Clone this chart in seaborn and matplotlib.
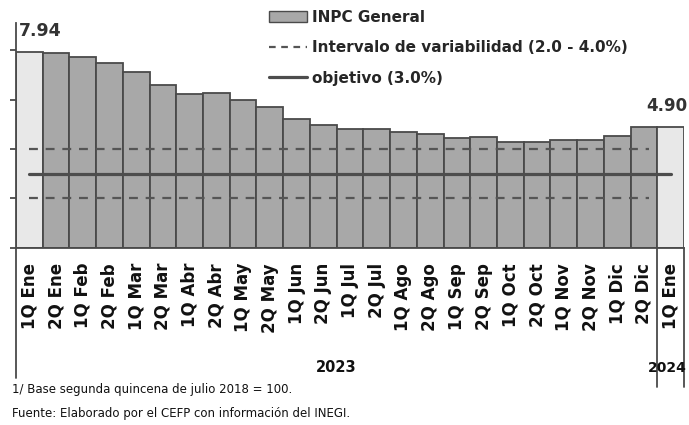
import matplotlib
matplotlib.use("Agg")
import matplotlib.pyplot as plt
from matplotlib.patches import Patch
from matplotlib.lines import Line2D
import seaborn as sns
import pandas as pd

# ---- data ----
periods = ["1Q Ene", "2Q Ene", "1Q Feb", "2Q Feb", "1Q Mar", "2Q Mar", "1Q Abr", "2Q Abr",
           "1Q May", "2Q May", "1Q Jun", "2Q Jun", "1Q Jul", "2Q Jul", "1Q Ago", "2Q Ago",
           "1Q Sep", "2Q Sep", "1Q Oct", "2Q Oct", "1Q Nov", "2Q Nov", "1Q Dic", "2Q Dic",
           "1Q Ene"]
years = ["2023"] * 24 + ["2024"]
inpc = [7.94, 7.90, 7.73, 7.48, 7.13, 6.57, 6.24, 6.28, 5.98, 5.71, 5.21, 4.95, 4.81, 4.81,
        4.68, 4.62, 4.45, 4.49, 4.27, 4.27, 4.35, 4.35, 4.51, 4.88, 4.90]
highlight = [True] + [False] * 23 + [True]
band_low, band_high = 2.0, 4.0
target = 3.0
y_ticks = [0, 2, 4, 6, 8]
legend_labels = ["INPC General", "Intervalo de variabilidad (2.0 - 4.0%)", "objetivo (3.0%)"]
notes = ["1/ Base segunda quincena de julio 2018 = 100.",
         "Fuente: Elaborado por el CEFP con información del INEGI."]

df = pd.DataFrame({"key": [f"{y} {p}" for y, p in zip(years, periods)],
                   "value": inpc, "hl": highlight})

BAR = "#a8a8a8"
BAR_HL = "#e8e8e8"
EDGE = "#4a4a4a"
TXT = "#333333"

sns.set_style("white")
plt.rcParams["font.family"] = ["DejaVu Sans"]

fig = plt.figure(figsize=(6.89, 4.25), dpi=100)
ax = fig.add_axes([16 / 689, 177.3 / 425, 668 / 689, 224.7 / 425])

palette = {k: (BAR_HL if h else BAR) for k, h in zip(df["key"], df["hl"])}
sns.barplot(data=df, x="key", y="value", hue="key", palette=palette, legend=False,
            width=1.0, edgecolor=EDGE, linewidth=1.3, saturation=1, ax=ax, zorder=2)

n = len(inpc)
xs = list(range(n))
ax.plot([xs[0], xs[-2] + 0.2], [band_high] * 2, color="#555555", lw=1.6,
        linestyle=(0, (4, 3.5)), zorder=3)
ax.plot([xs[0], xs[-2] + 0.2], [band_low] * 2, color="#555555", lw=1.6,
        linestyle=(0, (4, 3.5)), zorder=3)
ax.plot([xs[0], xs[-1]], [target] * 2, color="#4d4d4d", lw=2.3, zorder=3)

ax.set_xlim(-0.5, n - 0.5)
ax.set_ylim(0, 9.1)
ax.set_yticks(y_ticks)
ax.set_yticklabels([])
ax.tick_params(axis="y", length=4, width=1.3, color=EDGE, direction="out", left=True)
ax.set_xticks(xs)
ax.set_xticklabels(periods, rotation=90, fontweight="bold", fontsize=12, color="#111111")
ax.tick_params(axis="x", length=0, pad=11)
ax.set_xlabel("")
ax.set_ylabel("")
for s in ["top", "right"]:
    ax.spines[s].set_visible(False)
for s in ["left", "bottom"]:
    ax.spines[s].set_color(EDGE)
    ax.spines[s].set_linewidth(1.3)

# separators below axis
trans = ax.get_xaxis_transform()
for xb, y0 in [(-0.5, -0.58), (n - 1.5, -0.62), (n - 0.5, -0.62)]:
    ax.add_line(Line2D([xb, xb], [0, y0], transform=trans, color=EDGE, lw=1.3,
                       clip_on=False))

# year labels
ax.text((n - 2) / 2, -0.535, years[0], transform=trans, ha="center", va="center",
        fontweight="bold", fontsize=10.5, color="#111111")
ax.text(n - 0.38, -0.535, years[-1], transform=trans, ha="right", va="center",
        fontweight="bold", fontsize=10, color="#111111")

# value labels
ax.text(-0.4, inpc[0] + 0.82, f"{inpc[0]:.2f}", ha="left", va="center",
        fontweight="bold", fontsize=12.5, color=TXT)
ax.text(n - 0.37, inpc[-1] + 0.85, f"{inpc[-1]:.2f}", ha="right", va="center",
        fontweight="bold", fontsize=12, color=TXT)

# legend
handles = [Patch(facecolor=BAR, edgecolor=EDGE, linewidth=1.0),
           Line2D([], [], color="#555555", lw=1.6, linestyle=(0, (3, 2.5))),
           Line2D([], [], color="#4d4d4d", lw=2.3)]
fig.legend(handles, legend_labels, loc="upper left",
           bbox_to_anchor=(269 / 689, 1 - 10 / 425), frameon=False,
           prop={"weight": "bold", "size": 11}, handlelength=2.5, handletextpad=0.33,
           labelspacing=1.0, borderpad=0, borderaxespad=0)

# notes
fig.text(12 / 689, 1 - 390 / 425, notes[0], ha="left", va="center", fontsize=8.5, color="#111111")
fig.text(12 / 689, 1 - 413 / 425, notes[1], ha="left", va="center", fontsize=8.5, color="#111111")

fig.savefig("out.png", dpi=100)
